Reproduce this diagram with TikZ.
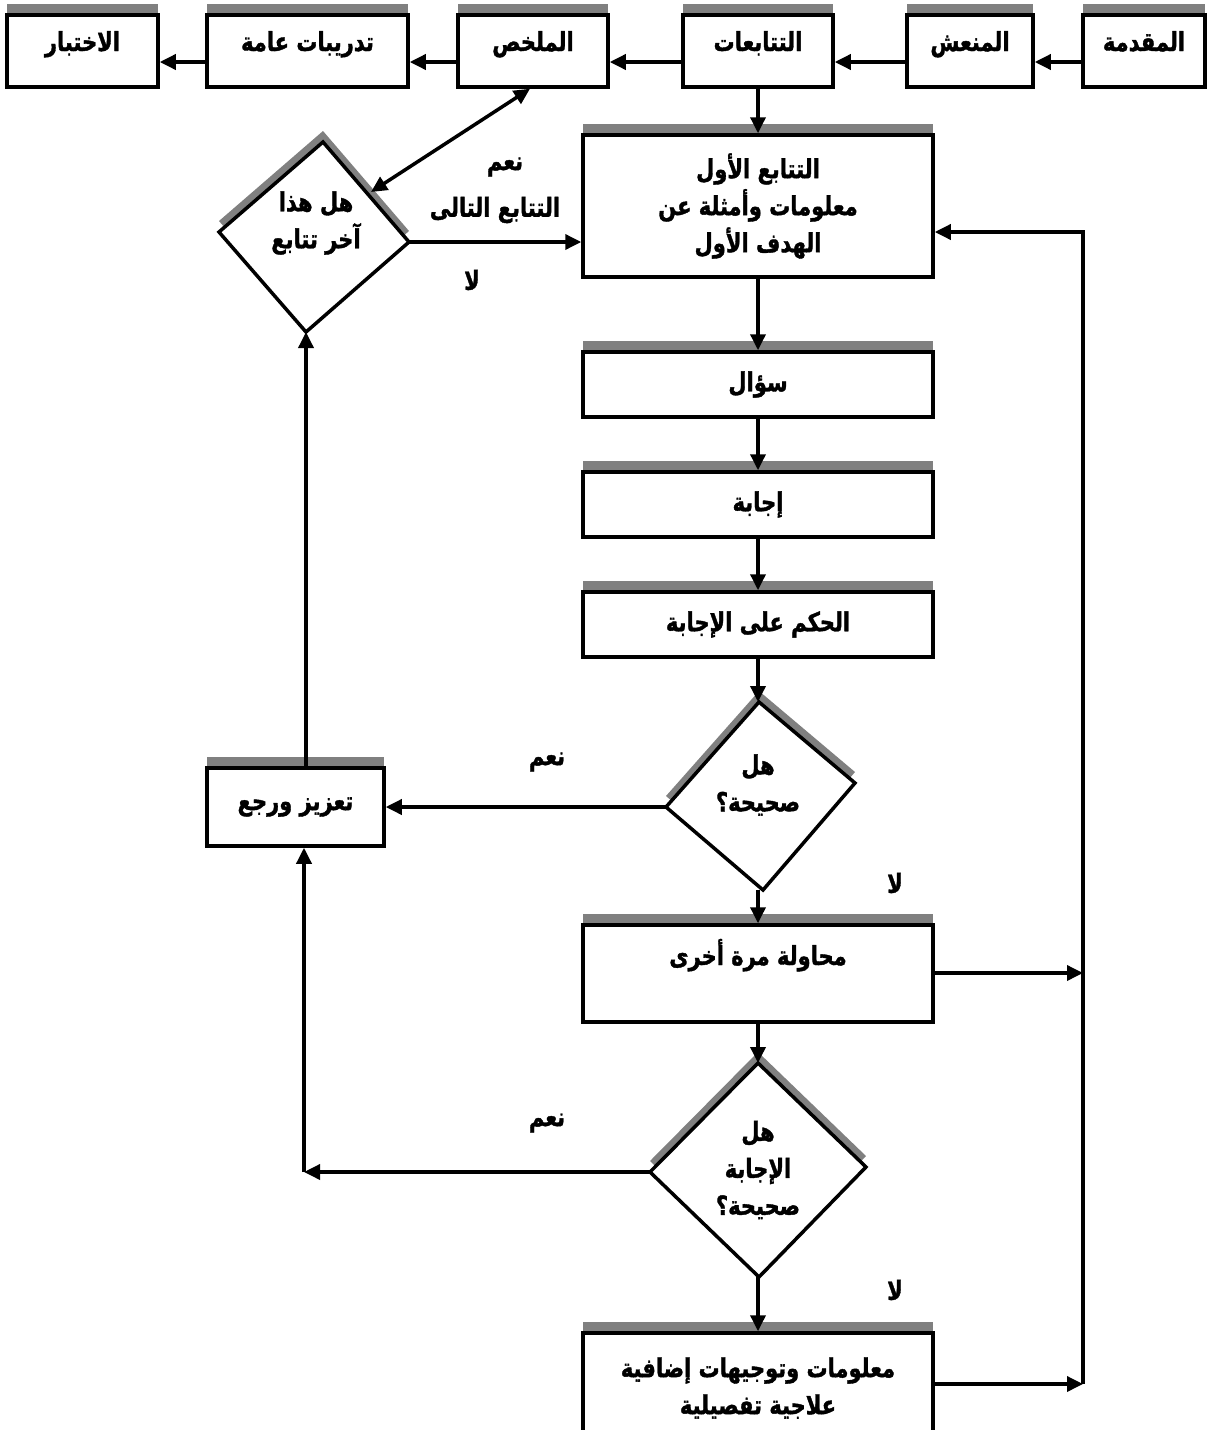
\documentclass[tikz,border=0pt]{standalone}
\usepackage{fontspec}
\usepackage{graphicx}
\newfontfamily\arabicfont[Script=Arabic, BoldFeatures={FakeBold=1.5}]{DejaVu Sans}
\TeXXeTstate=1
\usetikzlibrary{arrows.meta,calc}
\definecolor{shadowgray}{RGB}{128,128,128}
\newcommand{\rl}[1]{\scalebox{1}[1.25]{\beginR #1\endR}}
\begin{document}
\begin{tikzpicture}[x=1pt,y=-1pt,
  txt/.style={font=\arabicfont\bfseries\fontsize{21}{37}\selectfont, align=center, inner sep=0pt},
  box/.style={txt, draw, line width=3.5pt, fill=white, preaction={fill=shadowgray, transform canvas={yshift=11pt}}},
  topbox/.style={box, minimum height=72pt, text height=14pt, text depth=14pt},
  dia/.style={draw, line width=3.5pt, fill=white, line join=miter, preaction={fill=shadowgray, transform canvas={yshift=11pt}}},
  arr/.style={line width=3.5pt, -{Triangle[length=16pt,width=15pt]}},
  dbl/.style={line width=3.5pt, {Triangle[length=16pt,width=15pt]}-{Triangle[length=16pt,width=15pt]}},
]
\useasboundingbox[fill=white] (0,0) rectangle (1208,1430);

% top row
\node[topbox, minimum width=151pt] (test) at (82.5,51) {\rl{الاختبار}};
\node[topbox, minimum width=201pt] (drills) at (307.5,51) {\rl{تدريبات عامة}};
\node[topbox, minimum width=150pt] (summary) at (533,51) {\rl{الملخص}};
\node[topbox, minimum width=150pt] (seqs) at (758,51) {\rl{التتابعات}};
\node[topbox, minimum width=126pt] (motiv) at (970,51) {\rl{المنعش}};
\node[topbox, minimum width=122pt] (intro) at (1144,51) {\rl{المقدمة}};

% main column
\node[box, minimum width=350pt, minimum height=142pt] (first) at (758,206)
  {\rl{التتابع الأول}\\\rl{معلومات وأمثلة عن}\\\rl{الهدف الأول}};
\node[box, minimum width=350pt, minimum height=65pt] (q) at (758,384.5) {\rl{سؤال}};
\node[box, minimum width=350pt, minimum height=65pt] (ans) at (758,504.5) {\rl{إجابة}};
\node[box, minimum width=350pt, minimum height=65pt] (judge) at (758,624.5) {\rl{الحكم على الإجابة}};
\node[box, minimum width=350pt, minimum height=97pt, text height=14pt, text depth=31pt] (retry) at (758,973.5) {\rl{محاولة مرة أخرى}};
\node[box, minimum width=350pt, minimum height=110pt] (tail) at (758,1388)
  {\rl{معلومات وتوجيهات إضافية}\\\rl{علاجية تفصيلية}};
\node[box, minimum width=177pt, minimum height=78pt] (reinf) at (295.5,807) {\rl{تعزيز ورجع}};

% diamonds
\coordinate (dlT) at (323,142); \coordinate (dlR) at (409,242);
\coordinate (dlB) at (306,332); \coordinate (dlL) at (219,232);
\draw[dia] (dlT) -- (dlR) -- (dlB) -- (dlL) -- cycle;
\node[txt] (dltxt) at (316,223) {\rl{هل هذا}\\\rl{آخر تتابع}};

\coordinate (aT) at (759,702); \coordinate (aR) at (855,783);
\coordinate (aB) at (763,890); \coordinate (aL) at (666,807);
\draw[dia] (aT) -- (aR) -- (aB) -- (aL) -- cycle;
\node[txt] (atxt) at (758,785) {\rl{هل}\\\rl{صحيحة؟}};

\coordinate (bT) at (758,1063); \coordinate (bR) at (866,1167);
\coordinate (bB) at (759,1277); \coordinate (bL) at (650,1172);
\draw[dia] (bT) -- (bR) -- (bB) -- (bL) -- cycle;
\node[txt] (btxt) at (758,1170) {\rl{هل}\\\rl{الإجابة}\\\rl{صحيحة؟}};

% labels
\node[txt] (yes0) at (505,167) {\rl{نعم}};
\node[txt] (next0) at (495,210) {\rl{التتابع التالى}};
\node[txt] (no0) at (472,280) {\rl{لا}};
\node[txt] (yes1) at (547,762) {\rl{نعم}};
\node[txt] (no1) at (895,883) {\rl{لا}};
\node[txt] (yes2) at (547,1123) {\rl{نعم}};
\node[txt] (no2) at (895,1290) {\rl{لا}};

% top-row arrows
\coordinate (ya) at (0,62);
\draw[arr] (intro.west |- ya) -- (motiv.east |- ya);
\draw[arr] (motiv.west |- ya) -- (seqs.east |- ya);
\draw[arr] (seqs.west |- ya) -- (summary.east |- ya);
\draw[arr] (summary.west |- ya) -- (drills.east |- ya);
\draw[arr] (drills.west |- ya) -- (test.east |- ya);

% main column arrows
\draw[arr] (seqs.south) -- (first.north);
\draw[arr] (first.south) -- (q.north);
\draw[arr] (q.south) -- (ans.north);
\draw[arr] (ans.south) -- (judge.north);
\draw[arr] (judge.south) -- (judge.south |- aT);
\draw[arr] (retry.north |- aB) -- (retry.north);
\draw[arr] (retry.south) -- (retry.south |- bT);
\draw[arr] (tail.north |- bB) -- (tail.north);

% left side
\draw[arr] (aL) -- (aL -| reinf.east);
\coordinate (lc) at (304,1172);
\draw[arr] (bL) -- (lc);
\draw[arr] (lc) -- (lc |- reinf.south);
\draw[arr] (dlB |- reinf.north) -- (dlB);
\draw[arr] (dlR) -- (dlR -| first.west);
\coordinate (sx) at (530,0);
\coordinate (dedge) at (371,192);
\draw[dbl] (summary.south -| sx) -- (dedge);

% right loop
\coordinate (rtop) at (1083,232);
\coordinate (rmid) at (1083,973);
\coordinate (rbot) at (1083,1384);
\draw[arr] (rbot) -- (rtop) -- (rtop -| first.east);
\draw[arr] (rmid -| retry.east) -- (rmid);
\draw[arr] (rbot -| tail.east) -- (rbot);
\end{tikzpicture}
\end{document}
